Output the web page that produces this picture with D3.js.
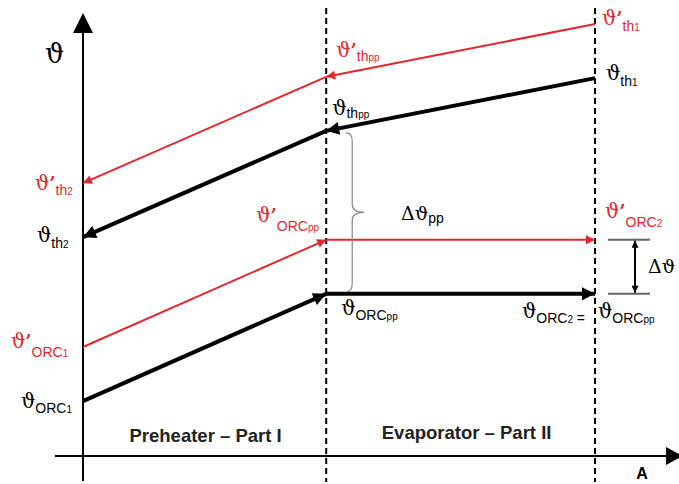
<!DOCTYPE html>
<html>
<head>
<meta charset="utf-8">
<script src="https://cdn.jsdelivr.net/npm/d3@7"></script>
<style>
  html, body { margin: 0; padding: 0; background: #fff; }
  svg { display: block; }
</style>
</head>
<body>
<div id="chart"></div>
<script>
// Heat-transfer area stations: inlet, pinch point, outlet (A, relative)
var areaStations = [0, 47.5, 100];

// Temperatures (relative) at each station
var thermalOilPrime = [61.6, 85.6, 97.5];  // ϑ'th2, ϑ'thpp, ϑ'th1
var thermalOil      = [49.4, 73.4, 85.3];  // ϑth2, ϑthpp, ϑth1
var orcPrime        = [24.6, 48.8, 48.8];  // ϑ'ORC1, ϑ'ORCpp, ϑ'ORC2
var orcFluid        = [12.4, 36.6, 36.6];  // ϑORC1, ϑORCpp, ϑORC2

var sectionNames = ["Preheater \u2013 Part I", "Evaporator \u2013 Part II"];

var RED = "#e3262d";
var THETA = "\u03D1";

var W = 679, H = 484;

var svg = d3.select("#chart").append("svg")
    .attr("width", W)
    .attr("height", H);

// Define scales
var x = d3.scaleLinear().domain([0, 100]).range([83, 595]);
var y = d3.scaleLinear().domain([0, 100]).range([456, 13]);

// Arrow markers
var defs = svg.append("defs");
function marker(id, color, len, wid) {
    defs.append("marker")
        .attr("id", id)
        .attr("viewBox", "0 0 10 10")
        .attr("refX", 10).attr("refY", 5)
        .attr("markerUnits", "userSpaceOnUse")
        .attr("markerWidth", len).attr("markerHeight", wid)
        .attr("orient", "auto-start-reverse")
        .append("path")
        .attr("d", "M0,0L10,5L0,10Z")
        .attr("fill", color);
}
marker("arrBlack", "#000", 16, 13);
marker("arrRed", RED, 12, 9);
marker("arrSmall", "#000", 8, 7);

// Axes
svg.append("line")
    .attr("x1", x(0)).attr("x2", x(0))
    .attr("y1", 481).attr("y2", y(100) + 18)
    .attr("stroke", "#000").attr("stroke-width", 2);
svg.append("path")
    .attr("d", "M" + x(0) + "," + y(100) + "L" + (x(0) - 10) + "," + (y(100) + 20) + "L" + (x(0) + 10) + "," + (y(100) + 20) + "Z")
    .attr("fill", "#000");

svg.append("line")
    .attr("x1", 55).attr("x2", 668)
    .attr("y1", y(0)).attr("y2", y(0))
    .attr("stroke", "#000").attr("stroke-width", 2);
svg.append("path")
    .attr("d", "M683," + y(0) + "L666," + (y(0) - 9) + "L666," + (y(0) + 9) + "Z")
    .attr("fill", "#000");

// Dashed section borders
svg.selectAll(".border")
    .data(areaStations.slice(1))
    .enter().append("line")
    .attr("class", "border")
    .attr("x1", function (d) { return x(d); })
    .attr("x2", function (d) { return x(d); })
    .attr("y1", 8).attr("y2", 482)
    .attr("stroke", "#000")
    .attr("stroke-width", 2)
    .attr("stroke-dasharray", "6,4");

// Build segments; thermal oil flows from outlet to inlet (counter flow)
function segments(values, reverse) {
    var segs = [];
    for (var i = 0; i < values.length - 1; i++) {
        var a = { A: areaStations[i], t: values[i] },
            b = { A: areaStations[i + 1], t: values[i + 1] };
        segs.push(reverse ? [b, a] : [a, b]);
    }
    return reverse ? segs.reverse() : segs;
}

var series = [
    { values: thermalOilPrime, reverse: true, color: RED, width: 2, marker: "arrRed" },
    { values: thermalOil, reverse: true, color: "#000", width: 4, marker: "arrBlack" },
    { values: orcPrime, reverse: false, color: RED, width: 2, marker: "arrRed" },
    { values: orcFluid, reverse: false, color: "#000", width: 4, marker: "arrBlack" }
];

var line = d3.line()
    .x(function (d) { return x(d.A); })
    .y(function (d) { return y(d.t); });

series.forEach(function (s) {
    svg.append("g").selectAll("path")
        .data(segments(s.values, s.reverse))
        .enter().append("path")
        .attr("d", line)
        .attr("fill", "none")
        .attr("stroke", s.color)
        .attr("stroke-width", s.width)
        .attr("marker-end", "url(#" + s.marker + ")");
});

// Pinch brace between ϑthpp and ϑORCpp
var bTop = y(thermalOil[1]) + 2, bBot = y(orcFluid[1]) - 2, bMid = (bTop + bBot) / 2;
var bx0 = x(areaStations[1]) + 20, bx1 = bx0 + 6, bx2 = bx1 + 12;
var brace = d3.path();
brace.moveTo(bx0, bTop);
brace.quadraticCurveTo(bx1, bTop, bx1, bTop + 8);
brace.lineTo(bx1, bMid - 8);
brace.quadraticCurveTo(bx1, bMid, bx2, bMid);
brace.quadraticCurveTo(bx1, bMid, bx1, bMid + 8);
brace.lineTo(bx1, bBot - 8);
brace.quadraticCurveTo(bx1, bBot, bx0, bBot);
svg.append("path")
    .attr("d", brace.toString())
    .attr("fill", "none")
    .attr("stroke", "#888")
    .attr("stroke-width", 1.2);

// Δϑ bracket at the outlet
var dx0 = x(100) + 13, dx1 = x(100) + 55, dxm = x(100) + 40;
[orcPrime[2], orcFluid[2]].forEach(function (v) {
    svg.append("line")
        .attr("x1", dx0).attr("x2", dx1)
        .attr("y1", y(v)).attr("y2", y(v))
        .attr("stroke", "#666").attr("stroke-width", 2);
});
svg.append("line")
    .attr("x1", dxm).attr("x2", dxm)
    .attr("y1", y(orcPrime[2]) + 1).attr("y2", y(orcFluid[2]) - 1)
    .attr("stroke", "#000").attr("stroke-width", 2)
    .attr("marker-start", "url(#arrSmall)")
    .attr("marker-end", "url(#arrSmall)");

// Labels: parts = [text, kind]; kinds: sym, prime, sub, small
function label(px, py, parts, color, subDy) {
    var t = svg.append("text")
        .attr("x", px).attr("y", py)
        .attr("fill", color);
    var shifted = false;
    parts.forEach(function (p) {
        var ts = t.append("tspan").text(p[0]);
        if (p[1] === "sym") {
            ts.attr("font-family", "DejaVu Serif, serif").attr("font-size", 20);
        } else if (p[1] === "prime") {
            ts.attr("font-family", "DejaVu Serif, serif").attr("font-size", 18).attr("font-weight", "bold");
        } else {
            ts.attr("font-family", "Liberation Sans, Arial, sans-serif")
                .attr("font-size", p[1] === "small" ? 10 : 14);
            if (!shifted) { ts.attr("dy", subDy); shifted = true; }
        }
    });
    return t;
}

var T = [THETA, "sym"], P = ["\u2019", "prime"];
// Inlet side
label(x(0) - 48, y(thermalOilPrime[0]) + 7, [T, P, ["th", "sub"], ["2", "small"]], RED, 5);
label(x(0) - 46, y(thermalOil[0]) + 5, [T, ["th", "sub"], ["2", "small"]], "#000", 6);
label(x(0) - 72, y(orcPrime[0]) + 1, [T, P, ["ORC", "sub"], ["1", "small"]], RED, 9);
label(x(0) - 62, y(orcFluid[0]) + 7, [T, ["ORC", "sub"], ["1", "small"]], "#000", 5);
// Pinch
label(x(47.5) + 10, y(thermalOilPrime[1]) - 20, [T, P, ["th", "sub"], ["pp", "small"]], RED, 4);
label(x(47.5) + 6, y(thermalOil[1]) - 16, [T, ["th", "sub"], ["pp", "small"]], "#000", 3);
label(x(47.5) - 70, y(orcPrime[1]) - 18, [T, P, ["ORC", "sub"], ["pp", "small"]], RED, 9);
label(x(47.5) + 15, y(orcFluid[1]) + 21, [T, ["ORC", "sub"], ["pp", "small"]], "#000", 5);
// Outlet
label(x(100) + 7, y(thermalOilPrime[2]) + 1, [T, P, ["th", "sub"], ["1", "small"]], RED, 6);
label(x(100) + 11, y(thermalOil[2]) + 2, [T, ["th", "sub"], ["1", "small"]], "#000", 6);
label(x(100) + 10, y(orcPrime[2]) - 22, [T, P, ["ORC", "sub"], ["2", "small"]], RED, 9);
label(x(100) - 73, y(orcFluid[2]) + 24, [T, ["ORC", "sub"], ["2", "small"], [" =", "sub"]], "#000", 5);
label(x(100) + 3, y(orcFluid[2]) + 24, [T, ["ORC", "sub"], ["pp", "small"]], "#000", 5);

// Δϑpp and Δϑ
svg.append("text")
    .attr("x", 401).attr("y", 220)
    .call(function (t) {
        t.append("tspan").attr("font-family", "DejaVu Serif, serif").attr("font-size", 19).text("\u0394" + THETA);
        t.append("tspan").attr("font-family", "Liberation Sans, Arial, sans-serif").attr("font-size", 14).attr("dy", 3).text("pp");
    });
svg.append("text")
    .attr("x", x(100) + 53).attr("y", (y(orcPrime[2]) + y(orcFluid[2])) / 2 + 6)
    .attr("font-family", "DejaVu Serif, serif").attr("font-size", 19)
    .text("\u0394" + THETA);

// Axis titles
svg.append("text")
    .attr("x", 45).attr("y", 63)
    .attr("font-family", "DejaVu Serif, serif").attr("font-size", 27)
    .text(THETA);
svg.append("text")
    .attr("x", 642).attr("y", 479)
    .attr("text-anchor", "middle")
    .attr("font-family", "Liberation Sans, Arial, sans-serif")
    .attr("font-weight", "bold").attr("font-size", 16)
    .text("A");

// Section names
svg.selectAll(".section")
    .data(sectionNames)
    .enter().append("text")
    .attr("class", "section")
    .attr("x", function (d, i) { return (x(areaStations[i]) + x(areaStations[i + 1])) / 2 + (i === 0 ? 1 : 6); })
    .attr("y", function (d, i) { return i === 0 ? 442 : 439; })
    .attr("text-anchor", "middle")
    .attr("font-family", "Liberation Sans, Arial, sans-serif")
    .attr("font-weight", "bold")
    .attr("font-size", 18.5)
    .attr("fill", "#222")
    .text(function (d) { return d; });
</script>
</body>
</html>
